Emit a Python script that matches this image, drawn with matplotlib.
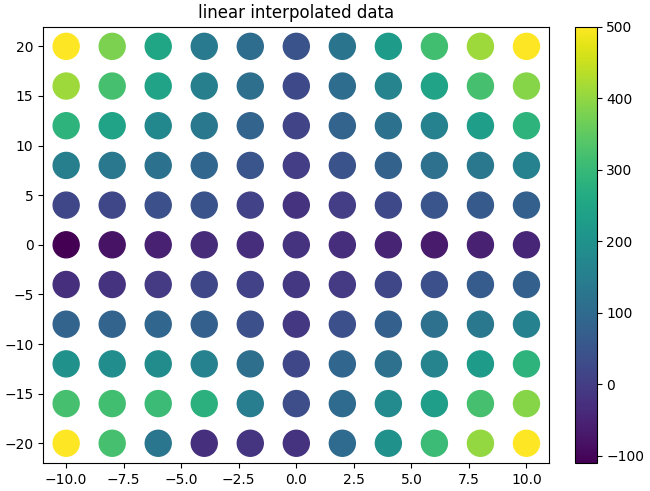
import numpy as np
import matplotlib
matplotlib.use("Agg")
import matplotlib.pyplot as plt

x_vals = [-10, -8, -6, -4, -2, 0, 2, 4, 6, 8, 10]
y_vals = [20, 16, 12, 8, 4, 0, -4, -8, -12, -16, -20]

# one row per y value (top to bottom)
row_20 = [500, 380, 250, 140, 105, 45, 125, 225, 315, 410, 500]
row_16 = [410, 320, 245, 150, 110, 25, 105, 165, 245, 320, 390]
row_12 = [285, 245, 175, 135, 85, 12, 85, 120, 160, 230, 285]
row_8 = [150, 135, 120, 90, 50, 0, 45, 80, 115, 135, 160]
row_4 = [20, 20, 40, 45, 10, -20, 0, 25, 50, 60, 75]
row_0 = [-110, -80, -55, -35, -30, -20, -30, -50, -65, -55, -45]
row_m4 = [-25, -20, -5, 20, 10, -10, -5, 20, 40, 65, 75]
row_m8 = [85, 85, 88, 75, 40, -10, 40, 75, 115, 135, 160]
row_m12 = [195, 190, 185, 160, 110, 20, 90, 115, 165, 225, 285]
row_m16 = [320, 315, 305, 280, 145, 35, 100, 180, 230, 320, 390]
row_m20 = [500, 320, 130, -25, -15, -20, 100, 195, 305, 400, 500]

rows = [row_20, row_16, row_12, row_8, row_4, row_0,
        row_m4, row_m8, row_m12, row_m16, row_m20]

X, Y = np.meshgrid(x_vals, y_vals)
Z = np.array(rows)

fig, ax = plt.subplots(figsize=(6.5, 4.91), dpi=100, layout='constrained')
sc = ax.scatter(X.ravel(), Y.ravel(), c=Z.ravel(), s=350, cmap='viridis')
fig.colorbar(sc, ax=ax)
ax.set_title('linear interpolated data')

fig.savefig('out.png')
